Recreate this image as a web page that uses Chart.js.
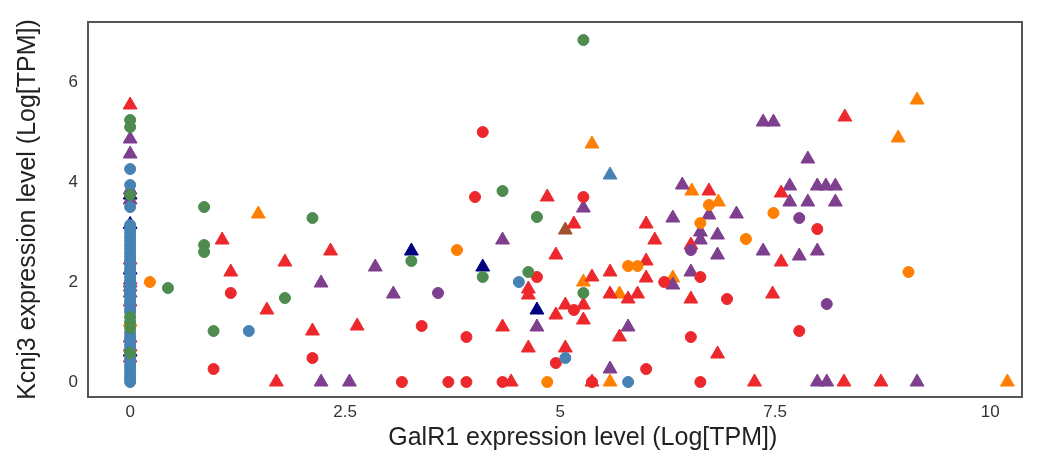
<!DOCTYPE html>
<html>
<head>
<meta charset="utf-8">
<script src="https://cdn.jsdelivr.net/npm/chart.js@4"></script>
<style>
  html, body { margin: 0; padding: 0; background: #fff; }
  #wrap { width: 1041px; height: 457px; }
</style>
</head>
<body>
<div id="wrap"><canvas id="chart"></canvas></div>
<script>
// Tick values shown on the axes.
X_TICKS = [0, 2.5, 5, 7.5, 10];
Y_TICKS = [0, 2, 4, 6];

// Points as [GalR1, Kcnj3] pairs, one list per colour/shape group.
GREEN_CIRCLES = [[0, 5.24], [0, 5.1], [0, 3.74], [0, 1.08], [0, 1.2], [0, 1.3], [0, 0.58],
    [0.86, 3.5], [2.12, 3.28], [0.86, 2.74], [0.86, 2.6], [3.27, 2.42], [0.44, 1.88],
    [1.8, 1.68], [0.97, 1.02], [5.27, 6.84], [4.33, 3.82], [4.73, 3.3], [4.1, 2.1],
    [4.63, 2.2], [5.27, 1.78]];

BLUE_CIRCLES = [[0, 0], [0, 0.06], [0, 0.12], [0, 0.2], [0, 0.27], [0, 0.34], [0, 0.42],
    [0, 0.5], [0, 0.57], [0, 0.66], [0, 0.74], [0, 0.82], [0, 0.9], [0, 0.98], [0, 1.4],
    [0, 1.46], [0, 1.54], [0, 1.62], [0, 1.7], [0, 1.78], [0, 1.86], [0, 1.94], [0, 2.02],
    [0, 2.1], [0, 2.18], [0, 2.26], [0, 2.34], [0, 2.42], [0, 2.5], [0, 2.58], [0, 2.66],
    [0, 2.74], [0, 2.82], [0, 2.9], [0, 2.98], [0, 3.06], [0, 3.14], [0, 3.5], [0, 3.94],
    [0, 4.26], [1.38, 1.02], [4.52, 2.0], [5.06, 0.48], [5.79, 0]];

NAVY_TRIANGLES = [[3.27, 2.62], [4.1, 2.3], [4.73, 1.44], [0, 3.74], [0, 3.15],
    [0, 2.24], [0, 0.6]];

BLUE_TRIANGLES = [[5.58, 4.14]];

RED_CIRCLES = [[1.17, 1.78], [3.39, 1.12], [2.12, 0.48], [0.97, 0.26], [3.16, 0],
    [4.1, 5.0], [4.01, 3.7], [5.27, 3.7], [4.73, 2.1], [6.21, 2.0], [6.63, 2.1],
    [5.16, 1.44], [3.91, 0.9], [6.52, 0.9], [4.95, 0.38], [6.0, 0.26], [3.7, 0],
    [3.91, 0], [4.33, 0], [5.37, 0], [6.63, 0], [7.99, 3.06], [6.94, 1.66], [7.78, 1.02]];

ORANGE_CIRCLES = [[0.23, 2.0], [3.8, 2.64], [6.73, 3.54], [6.63, 3.18], [5.79, 2.32],
    [5.9, 2.32], [4.85, 0], [7.48, 3.38], [7.16, 2.86], [9.05, 2.2]];

PURPLE_CIRCLES = [[3.58, 1.78], [6.52, 2.64], [7.78, 3.28], [8.1, 1.56]];

RED_TRIANGLES = [[0, 5.54], [1.07, 2.84], [2.33, 2.62], [1.8, 2.4], [1.17, 2.2],
    [1.59, 1.44], [2.12, 1.02], [2.64, 1.12], [1.7, 0], [4.85, 3.7], [6.73, 3.82],
    [5.16, 3.16], [6.0, 3.16], [6.1, 2.84], [6.52, 2.74], [4.95, 2.54], [4.63, 1.86],
    [4.63, 1.74], [5.37, 2.1], [5.58, 2.2], [6.0, 2.42], [6.0, 2.08], [5.58, 1.76],
    [5.79, 1.66], [5.9, 1.76], [6.52, 1.66], [5.06, 1.54], [4.95, 1.34], [5.27, 1.54],
    [5.27, 1.24], [4.33, 1.1], [5.69, 0.9], [4.63, 0.68], [5.06, 0.68], [6.83, 0.56],
    [4.43, 0], [5.37, 0], [8.31, 5.3], [7.57, 3.78], [7.57, 2.4], [7.47, 1.76],
    [7.26, 0], [8.3, 0], [8.73, 0], [0, 2.44], [0, 2.04], [0, 1.6], [0, 0.88],
    [0, 0.7], [0, 0.48]];

PURPLE_TRIANGLES = [[0, 4.86], [0, 4.56], [0, 3.84], [0, 3.64], [0, 1.98], [0, 1.78],
    [2.85, 2.3], [2.22, 1.98], [3.06, 1.76], [2.22, 0], [2.55, 0], [5.27, 3.48],
    [6.42, 3.94], [4.33, 2.84], [6.31, 3.28], [6.63, 3.0], [6.63, 2.84], [6.83, 2.94],
    [6.83, 2.54], [6.31, 1.94], [6.52, 2.2], [4.73, 1.1], [5.79, 1.1], [5.58, 0.26],
    [7.36, 5.2], [7.48, 5.2], [7.88, 4.46], [7.67, 3.92], [7.99, 3.92], [8.09, 3.92],
    [8.2, 3.92], [7.67, 3.6], [7.88, 3.6], [8.2, 3.6], [6.73, 3.34], [7.05, 3.36],
    [7.36, 2.62], [7.78, 2.52], [7.99, 2.62], [7.99, 0], [8.1, 0], [9.15, 0]];

ORANGE_TRIANGLES = [[0, 1.2], [1.49, 3.36], [5.37, 4.76], [6.53, 3.82], [5.27, 2.0],
    [6.31, 2.08], [5.69, 1.76], [5.58, 0], [9.15, 5.64], [8.93, 4.88], [6.84, 3.6],
    [10.2, 0]];

BROWN_TRIANGLES = [[5.06, 3.04], [0, 1.9]];

// Drawing groups, topmost first (Chart.js paints dataset 0 last).
GROUPS = [
    [GREEN_CIRCLES, 'rgb(77, 139, 79)', 'circle'],
    [BLUE_CIRCLES, 'rgb(70, 130, 180)', 'circle'],
    [NAVY_TRIANGLES, 'rgb(0, 0, 128)', 'triangle'],
    [BLUE_TRIANGLES, 'rgb(70, 130, 180)', 'triangle'],
    [RED_CIRCLES, 'rgb(236, 40, 45)', 'circle'],
    [ORANGE_CIRCLES, 'rgb(255, 127, 0)', 'circle'],
    [PURPLE_CIRCLES, 'rgb(126, 63, 142)', 'circle'],
    [RED_TRIANGLES, 'rgb(236, 40, 45)', 'triangle'],
    [PURPLE_TRIANGLES, 'rgb(126, 63, 142)', 'triangle'],
    [ORANGE_TRIANGLES, 'rgb(255, 127, 0)', 'triangle'],
    [BROWN_TRIANGLES, 'rgb(160, 82, 45)', 'triangle'],
];

// Dark frame around the plotting area.
const frame = {
    id: 'frame',
    afterDraw(chart) {
        const a = chart.chartArea;
        const ctx = chart.ctx;
        ctx.save();
        ctx.strokeStyle = '#555';
        ctx.lineWidth = 2;
        ctx.strokeRect(a.left, a.top, a.right - a.left, a.bottom - a.top);
        ctx.restore();
    }
};

function tickList(values) {
    return function(scale) {
        scale.ticks = values.map(function(v) { return {value: v}; });
    };
}

const datasets = GROUPS.map(function(g) {
    return {
        data: g[0].map(function(p) { return {x: p[0], y: p[1]}; }),
        pointStyle: g[2],
        pointRadius: g[2] === 'circle' ? 5.5 : 8,
        pointBorderWidth: 1,
        backgroundColor: g[1],
        borderColor: g[1],
    };
});

new Chart(document.getElementById('chart'), {
    type: 'scatter',
    data: {datasets: datasets},
    plugins: [frame],
    options: {
        responsive: true,
        maintainAspectRatio: false,
        animation: false,
        layout: {padding: {top: 22, right: 19, left: 0, bottom: 0}},
        plugins: {legend: {display: false}, tooltip: {enabled: false}},
        scales: {
            x: {
                min: -0.49,
                max: 10.37,
                afterBuildTicks: tickList(X_TICKS),
                afterFit: function(scale) { scale.height = 60; },
                grid: {display: false, drawTicks: false},
                border: {display: false},
                ticks: {
                    padding: 5,
                    color: '#333',
                    font: {family: 'Liberation Sans', size: 17},
                    callback: function(v) { return String(v); },
                },
                title: {
                    display: true,
                    // leading spaces nudge the title right, as in the original
                    text: '        GalR1 expression level (Log[TPM])',
                    color: '#222',
                    font: {family: 'Liberation Sans', size: 25},
                    padding: {top: 0, bottom: 4},
                },
            },
            y: {
                min: -0.3,
                max: 7.2,
                afterBuildTicks: tickList(Y_TICKS),
                afterFit: function(scale) { scale.width = 88; },
                grid: {display: false, drawTicks: false},
                border: {display: false},
                ticks: {
                    padding: 10,
                    color: '#333',
                    font: {family: 'Liberation Sans', size: 17},
                    callback: function(v) { return String(v); },
                },
                title: {
                    display: true,
                    text: 'Kcnj3 expression level (Log[TPM])',
                    color: '#222',
                    font: {family: 'Liberation Sans', size: 25},
                    padding: {top: 13, bottom: 0},
                },
            },
        },
    },
});
</script>
</body>
</html>
